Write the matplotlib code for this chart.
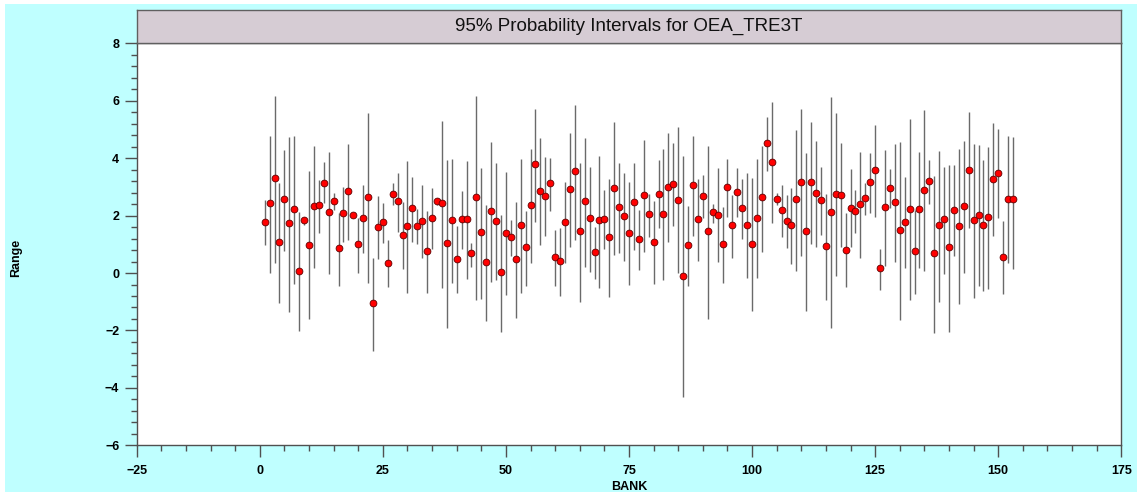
import matplotlib
matplotlib.use("Agg")
import matplotlib.pyplot as plt
from matplotlib.patches import Rectangle
from matplotlib.ticker import MultipleLocator
import numpy as np

plt.rcParams['font.family'] = ['Liberation Sans', 'DejaVu Sans']

bank = list(range(1, 154))
mean = [1.79, 2.43, 3.31, 1.07, 2.57, 1.73, 2.23, 0.07, 1.85, 0.98,
        2.33, 2.36, 3.12, 2.11, 2.50, 0.86, 2.09, 2.86, 2.01, 1.00,
        1.93, 2.64, -1.06, 1.61, 1.76, 0.36, 2.76, 2.50, 1.33, 1.64,
        2.26, 1.64, 1.81, 0.77, 1.90, 2.50, 2.43, 1.04, 1.86, 0.50,
        1.88, 1.88, 0.69, 2.65, 1.43, 0.38, 2.16, 1.81, 0.02, 1.40,
        1.27, 0.48, 1.67, 0.92, 2.36, 3.79, 2.87, 2.69, 3.12, 0.55,
        0.41, 1.79, 2.93, 3.54, 1.45, 2.50, 1.90, 0.73, 1.83, 1.88,
        1.25, 2.97, 2.29, 2.00, 1.40, 2.47, 1.18, 2.72, 2.04, 1.09,
        2.76, 2.07, 3.01, 3.11, 2.54, -0.10, 0.98, 3.05, 1.88, 2.69,
        1.45, 2.11, 2.03, 1.00, 2.98, 1.66, 2.83, 2.26, 1.68, 1.02,
        1.93, 2.64, 4.53, 3.88, 2.58, 2.21, 1.81, 1.66, 2.57, 3.18,
        1.45, 3.18, 2.79, 2.54, 0.93, 2.14, 2.76, 2.72, 0.81, 2.28,
        2.17, 2.40, 2.61, 3.18, 3.58, 0.16, 2.29, 2.95, 2.47, 1.50,
        1.79, 2.23, 0.77, 2.23, 2.90, 3.20, 0.69, 1.68, 1.87, 0.89,
        2.21, 1.64, 2.35, 3.60, 1.83, 2.03, 1.67, 1.95, 3.29, 3.49,
        0.57, 2.59, 2.59]
lower = [0.98, 0.01, 0.36, -1.06, 0.77, -1.35, -0.39, -2.02, 1.67, -1.61,
         0.16, 1.40, 2.43, -0.05, 2.19, -0.44, 1.09, 1.15, 1.90, 0.01,
         0.71, -0.36, -2.72, 0.48, 1.03, -0.50, 2.37, 1.44, 0.13, -0.71,
         1.09, 1.01, 0.53, -0.71, 0.82, 2.37, -0.51, -1.90, -0.34, -0.69,
         0.85, -0.22, 0.22, -0.94, -0.89, -1.67, -0.30, -0.24, -2.06, -0.77,
         0.60, -1.58, -0.71, -0.44, 0.34, 1.79, 0.98, 1.30, 2.17, -0.45,
         -0.79, 0.34, 0.89, 1.15, -1.00, 0.20, 0.05, -0.22, -0.51, 0.82,
         -0.82, 0.63, 0.69, 0.43, -0.42, 0.80, 0.10, 0.74, 1.27, -0.39,
         1.56, -0.24, 1.09, 1.65, -0.01, -4.33, -0.44, 1.30, 0.43, 1.90,
         -1.60, 1.73, 0.39, -0.36, 1.96, 0.53, 1.94, 1.17, -0.18, -1.32,
         -0.18, 0.74, 3.55, 1.75, 2.37, 1.27, 0.86, 0.30, 0.08, 0.60,
         -1.32, 1.01, 0.92, 1.32, -0.94, -1.93, -0.09, 0.89, -0.50, 0.89,
         1.38, 0.53, 2.02, 2.10, 1.94, -0.59, 0.25, 2.25, 0.39, -1.64,
         0.16, -0.94, -0.73, 0.16, 0.07, 2.39, -2.10, -1.00, -0.03, -2.04,
         0.60, -1.09, -0.01, 1.56, -0.86, -0.45, -0.63, -0.56, 1.30, 1.93,
         -0.73, 0.34, 0.14]
upper = [2.54, 4.77, 6.18, 3.12, 4.27, 4.75, 4.77, 2.11, 1.96, 3.54,
         4.44, 3.24, 3.87, 4.21, 2.78, 2.10, 3.00, 4.48, 2.10, 1.93,
         3.07, 5.56, 0.51, 2.68, 2.43, 1.15, 3.12, 3.49, 2.48, 3.91,
         3.36, 2.22, 3.07, 2.17, 2.95, 2.60, 5.31, 3.94, 3.97, 1.64,
         2.87, 3.90, 1.03, 6.18, 3.67, 2.37, 4.57, 3.82, 2.02, 3.53,
         1.85, 2.48, 3.97, 2.17, 4.31, 5.71, 4.69, 4.05, 3.99, 1.50,
         1.56, 3.18, 4.86, 5.85, 3.84, 4.69, 3.70, 1.61, 4.09, 2.89,
         3.26, 5.25, 3.82, 3.47, 3.16, 3.82, 2.19, 4.63, 2.75, 2.51,
         3.94, 4.31, 4.89, 4.52, 5.07, 4.08, 2.33, 4.77, 3.26, 3.41,
         4.42, 2.40, 3.65, 2.31, 3.97, 2.72, 3.65, 3.27, 3.47, 3.30,
         3.96, 4.44, 5.44, 5.94, 2.77, 3.07, 2.72, 2.95, 4.98, 5.70,
         4.17, 5.25, 4.61, 3.68, 2.74, 6.12, 5.56, 4.52, 2.08, 3.61,
         2.89, 4.23, 3.12, 4.17, 5.15, 0.82, 4.28, 3.61, 4.49, 4.55,
         3.36, 5.35, 2.19, 4.23, 5.68, 3.94, 3.39, 4.26, 3.70, 3.76,
         3.76, 4.32, 4.60, 5.60, 4.48, 4.46, 3.94, 4.38, 5.24, 5.02,
         1.81, 4.77, 4.73]

title = "95% Probability Intervals for OEA_TRE3T"
xlabel = "BANK"
ylabel = "Range"

W, H = 1137, 492
fig = plt.figure(figsize=(W / 100, H / 100), dpi=100, facecolor='white')
fig.patches.append(Rectangle((5 / W, 0), 1 - 5 / W, 1 - 4 / H, transform=fig.transFigure,
                             facecolor='#BFFFFF', edgecolor='none', zorder=-10))

left, right = 136.7 / W, 1121.3 / W
bottom, top = 1 - 445.3 / H, 1 - 43.3 / H
ax = fig.add_axes([left, bottom, right - left, top - bottom])
ax.set_zorder(5)
ax.set_facecolor('white')

ax.vlines(bank, lower, upper, colors='#6a6a6a', linewidth=1.0, zorder=2)
ax.plot(bank, mean, 'o', markersize=4.9, markerfacecolor='#FF0000',
        markeredgecolor='#600000', markeredgewidth=0.6, zorder=3)

ax.set_xlim(-25, 175)
ax.set_ylim(-6, 8)
ax.xaxis.set_major_locator(MultipleLocator(25))
ax.xaxis.set_minor_locator(MultipleLocator(5))
ax.yaxis.set_major_locator(MultipleLocator(2))
ax.yaxis.set_minor_locator(MultipleLocator(0.4))
ax.tick_params(axis='both', which='major', direction='out', length=8.5, width=1.0,
               color='#505050', labelsize=9)
ax.tick_params(axis='both', which='minor', direction='out', length=4, width=1.0,
               color='#505050')
ax.tick_params(axis='x', which='major', pad=6)
ax.tick_params(axis='y', which='major', pad=4)
for lab in ax.get_xticklabels() + ax.get_yticklabels():
    lab.set_fontweight('bold')
for s in ax.spines.values():
    s.set_color('#505050')
    s.set_linewidth(1.0)

# title band
band = fig.add_axes([left, top, right - left, 33.3 / H])
band.set_zorder(5)
band.set_facecolor('#D6CCD4')
band.set_xticks([])
band.set_yticks([])
for s in band.spines.values():
    s.set_color('#606060')
    s.set_linewidth(1.0)
band.text(0.5, 0.5, title, ha='center', va='center', fontsize=13.5,
          transform=band.transAxes, color='#111111')

fig.text((left + right) / 2, 1 - 487 / H, xlabel, ha='center', va='center',
         fontsize=9, fontweight='bold')
fig.text(16 / W, 1 - 258 / H, ylabel, ha='center', va='center', rotation=90,
         fontsize=9, fontweight='bold')

fig.savefig('out.png', dpi=100, facecolor=fig.get_facecolor())
